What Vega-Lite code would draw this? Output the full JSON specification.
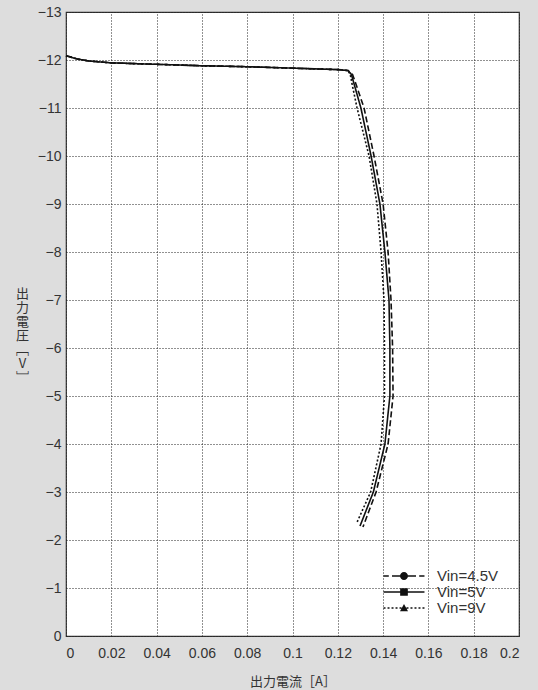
{
  "$schema": "https://vega.github.io/schema/vega-lite/v6.json",
  "width": 453,
  "height": 624,
  "autosize": "none",
  "padding": {"left": 66, "top": 12, "right": 19, "bottom": 54},
  "background": "#dddddd",
  "config": {
    "view": {"fill": "white", "stroke": "#333333", "strokeWidth": 1.2},
    "axis": {
      "labelFont": "Liberation Sans",
      "labelFontSize": 14,
      "labelColor": "#333333",
      "ticks": false,
      "domain": false,
      "grid": true,
      "gridColor": "#222222",
      "gridDash": [1, 2],
      "gridWidth": 1,
      "gridOpacity": 1,
      "titleFont": "Noto Sans CJK JP",
      "titleFontSize": 13,
      "titleFontWeight": "normal",
      "titleColor": "#333333"
    },
    "legend": {
      "labelFont": "Liberation Sans",
      "labelFontSize": 15,
      "labelColor": "#333333"
    }
  },
  "data": {
    "values": [
      {"s": "Vin=4.5V", "i": 0, "x": 0, "y": -12.09},
      {"s": "Vin=4.5V", "i": 1, "x": 0.005, "y": -12.02},
      {"s": "Vin=4.5V", "i": 2, "x": 0.01, "y": -11.98},
      {"s": "Vin=4.5V", "i": 3, "x": 0.02, "y": -11.94},
      {"s": "Vin=4.5V", "i": 4, "x": 0.04, "y": -11.91},
      {"s": "Vin=4.5V", "i": 5, "x": 0.06, "y": -11.88},
      {"s": "Vin=4.5V", "i": 6, "x": 0.08, "y": -11.86},
      {"s": "Vin=4.5V", "i": 7, "x": 0.1, "y": -11.83},
      {"s": "Vin=4.5V", "i": 8, "x": 0.12, "y": -11.8},
      {"s": "Vin=4.5V", "i": 9, "x": 0.1245, "y": -11.78},
      {"s": "Vin=4.5V", "i": 10, "x": 0.1265, "y": -11.7},
      {"s": "Vin=4.5V", "i": 11, "x": 0.128, "y": -11.5},
      {"s": "Vin=4.5V", "i": 12, "x": 0.1316, "y": -11},
      {"s": "Vin=4.5V", "i": 13, "x": 0.136, "y": -10},
      {"s": "Vin=4.5V", "i": 14, "x": 0.14, "y": -9},
      {"s": "Vin=4.5V", "i": 15, "x": 0.1422, "y": -8},
      {"s": "Vin=4.5V", "i": 16, "x": 0.1435, "y": -7},
      {"s": "Vin=4.5V", "i": 17, "x": 0.1442, "y": -6},
      {"s": "Vin=4.5V", "i": 18, "x": 0.1444, "y": -5},
      {"s": "Vin=4.5V", "i": 19, "x": 0.1422, "y": -4},
      {"s": "Vin=4.5V", "i": 20, "x": 0.1369, "y": -3},
      {"s": "Vin=4.5V", "i": 21, "x": 0.1311, "y": -2.27},
      {"s": "Vin=5V", "i": 0, "x": 0, "y": -12.09},
      {"s": "Vin=5V", "i": 1, "x": 0.005, "y": -12.02},
      {"s": "Vin=5V", "i": 2, "x": 0.01, "y": -11.98},
      {"s": "Vin=5V", "i": 3, "x": 0.02, "y": -11.94},
      {"s": "Vin=5V", "i": 4, "x": 0.04, "y": -11.91},
      {"s": "Vin=5V", "i": 5, "x": 0.06, "y": -11.88},
      {"s": "Vin=5V", "i": 6, "x": 0.08, "y": -11.86},
      {"s": "Vin=5V", "i": 7, "x": 0.1, "y": -11.83},
      {"s": "Vin=5V", "i": 8, "x": 0.12, "y": -11.8},
      {"s": "Vin=5V", "i": 9, "x": 0.1245, "y": -11.78},
      {"s": "Vin=5V", "i": 10, "x": 0.126, "y": -11.7},
      {"s": "Vin=5V", "i": 11, "x": 0.1272, "y": -11.5},
      {"s": "Vin=5V", "i": 12, "x": 0.1302, "y": -11},
      {"s": "Vin=5V", "i": 13, "x": 0.1347, "y": -10},
      {"s": "Vin=5V", "i": 14, "x": 0.1386, "y": -9},
      {"s": "Vin=5V", "i": 15, "x": 0.1408, "y": -8},
      {"s": "Vin=5V", "i": 16, "x": 0.1426, "y": -7},
      {"s": "Vin=5V", "i": 17, "x": 0.143, "y": -6},
      {"s": "Vin=5V", "i": 18, "x": 0.143, "y": -5},
      {"s": "Vin=5V", "i": 19, "x": 0.1408, "y": -4},
      {"s": "Vin=5V", "i": 20, "x": 0.1357, "y": -3},
      {"s": "Vin=5V", "i": 21, "x": 0.1298, "y": -2.29},
      {"s": "Vin=9V", "i": 0, "x": 0, "y": -12.09},
      {"s": "Vin=9V", "i": 1, "x": 0.005, "y": -12.02},
      {"s": "Vin=9V", "i": 2, "x": 0.01, "y": -11.98},
      {"s": "Vin=9V", "i": 3, "x": 0.02, "y": -11.94},
      {"s": "Vin=9V", "i": 4, "x": 0.04, "y": -11.91},
      {"s": "Vin=9V", "i": 5, "x": 0.06, "y": -11.88},
      {"s": "Vin=9V", "i": 6, "x": 0.08, "y": -11.86},
      {"s": "Vin=9V", "i": 7, "x": 0.1, "y": -11.83},
      {"s": "Vin=9V", "i": 8, "x": 0.12, "y": -11.8},
      {"s": "Vin=9V", "i": 9, "x": 0.1245, "y": -11.78},
      {"s": "Vin=9V", "i": 10, "x": 0.1255, "y": -11.7},
      {"s": "Vin=9V", "i": 11, "x": 0.1263, "y": -11.5},
      {"s": "Vin=9V", "i": 12, "x": 0.1285, "y": -11},
      {"s": "Vin=9V", "i": 13, "x": 0.1338, "y": -10},
      {"s": "Vin=9V", "i": 14, "x": 0.1373, "y": -9},
      {"s": "Vin=9V", "i": 15, "x": 0.1391, "y": -8},
      {"s": "Vin=9V", "i": 16, "x": 0.1404, "y": -7},
      {"s": "Vin=9V", "i": 17, "x": 0.1406, "y": -6},
      {"s": "Vin=9V", "i": 18, "x": 0.1406, "y": -5},
      {"s": "Vin=9V", "i": 19, "x": 0.1391, "y": -4},
      {"s": "Vin=9V", "i": 20, "x": 0.1345, "y": -3},
      {"s": "Vin=9V", "i": 21, "x": 0.1283, "y": -2.35}
    ]
  },
  "encoding": {
    "x": {
      "field": "x",
      "type": "quantitative",
      "scale": {"domain": [0, 0.2], "nice": false, "zero": false},
      "axis": {
        "values": [0, 0.02, 0.04, 0.06, 0.08, 0.1, 0.12, 0.14, 0.16, 0.18, 0.2],
        "format": ".2~f",
        "labelPadding": 10,
        "title": "出力電流［A］",
        "titlePadding": 15
      }
    },
    "y": {
      "field": "y",
      "type": "quantitative",
      "scale": {"domain": [-13, 0], "reverse": true, "nice": false, "zero": false},
      "axis": {
        "values": [-13, -12, -11, -10, -9, -8, -7, -6, -5, -4, -3, -2, -1, 0],
        "labelExpr": "datum.value < 0 ? '−' + abs(datum.value) : '0'",
        "labelPadding": 5,
        "title": ["出", "力", "電", "圧", "﹇", "V", "﹈"],
        "titleAngle": 0,
        "titleAlign": "center",
        "titleBaseline": "middle",
        "titleLineHeight": 14,
        "titleX": -44,
        "titleY": 281
      }
    },
    "strokeDash": {
      "field": "s",
      "type": "nominal",
      "scale": {"domain": ["Vin=4.5V", "Vin=5V", "Vin=9V"], "range": [[6, 3], [1, 0], [2, 2]]},
      "legend": {
        "title": null,
        "orient": "bottom-right",
        "offset": 20,
        "symbolSize": 256,
        "rowPadding": 0,
        "labelOffset": 25,
        "symbolFillColor": "#111111",
        "symbolStrokeWidth": 0,
        "symbolOpacity": 1
      }
    }
  },
  "layer": [
    {
      "mark": {"type": "point", "filled": true, "color": "#111111", "strokeWidth": 0, "size": 0},
      "encoding": {
        "shape": {
          "field": "s",
          "type": "nominal",
          "scale": {
            "domain": ["Vin=4.5V", "Vin=5V", "Vin=9V"],
            "range": [
              "M-2.56,-0.08H-1.9V0.08H-2.56Z M-1.5,-0.08H-0.49V0.08H-1.5Z M0.49,-0.08H1.5V0.08H0.49Z M1.9,-0.08H2.56V0.08H1.9Z M0.5,0A0.5,0.5 0 1,1 -0.5,0A0.5,0.5 0 1,1 0.5,0Z",
              "M-2.56,-0.08H2.56V0.08H-2.56Z M-0.48,-0.48H0.48V0.48H-0.48Z",
              "M-2.56,-0.08H-2.31V0.08H-2.56Z M-2.06,-0.08H-1.81V0.08H-2.06Z M-1.56,-0.08H-1.31V0.08H-1.56Z M-1.06,-0.08H-0.81V0.08H-1.06Z M-0.56,-0.08H-0.31V0.08H-0.56Z M0.31,-0.08H0.56V0.08H0.31Z M0.81,-0.08H1.06V0.08H0.81Z M1.31,-0.08H1.56V0.08H1.31Z M1.81,-0.08H2.06V0.08H1.81Z M2.31,-0.08H2.56V0.08H2.31Z M0,-0.5L0.5,0.4H-0.5Z"
            ]
          },
          "legend": {
            "title": null,
            "orient": "bottom-right",
            "offset": 20,
            "symbolSize": 256,
            "rowPadding": 0,
            "labelOffset": 25,
            "symbolFillColor": "#111111",
            "symbolStrokeWidth": 0,
            "symbolOpacity": 1
          }
        }
      }
    },
    {
      "mark": {"type": "line", "color": "#111111", "strokeWidth": 1.6},
      "encoding": {
        "order": {"field": "i", "type": "quantitative"}
      }
    }
  ]
}
